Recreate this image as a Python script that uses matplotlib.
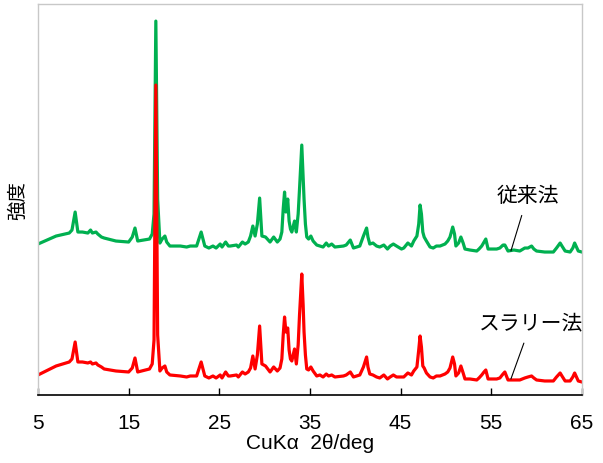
import matplotlib
matplotlib.use("Agg")
import matplotlib.pyplot as plt

# 2-theta positions shared by both patterns (deg)
two_theta = [5.0, 7.0, 8.45, 8.75, 9.1, 9.4, 9.9, 10.5, 10.8, 11.0, 11.4, 11.6, 12.0,
             12.3, 13.6, 15.0, 15.4, 15.7, 16.0, 17.3, 17.6, 17.8, 18.0, 18.2, 18.45,
             18.7, 19.0, 19.2, 19.55, 20.7, 21.4, 21.8, 22.5, 22.75, 23.0, 23.2, 23.4,
             23.85, 24.3, 24.65, 25.1, 25.3, 25.7, 26.0, 26.2, 26.9, 27.1, 27.55, 27.85,
             28.2, 28.45, 28.7, 28.95, 29.2, 29.45, 29.7, 30.1, 30.6, 31.0, 31.4, 31.7,
             31.9, 32.05, 32.2, 32.35, 32.55, 32.7, 32.85, 33.0, 33.3, 33.5, 33.7, 33.85,
             34.1, 34.25, 34.35, 34.5, 34.65, 34.85, 35.1, 35.35, 35.75, 36.1, 36.45,
             36.8, 37.05, 37.4, 37.75, 38.7, 39.0, 39.45, 39.8, 40.5, 40.9, 41.25, 41.4,
             41.6, 41.95, 42.35, 42.7, 43.15, 43.55, 43.85, 44.2, 44.55, 45.1, 45.35,
             45.8, 46.2, 46.45, 46.8, 47.0, 47.15, 47.3, 47.45, 47.6, 47.85, 48.25, 48.6,
             48.95, 49.35, 49.9, 50.2, 50.45, 50.75, 50.95, 51.1, 51.4, 51.65, 51.9, 52.1,
             52.65, 53.4, 53.65, 53.95, 54.2, 54.4, 54.65, 55.1, 55.6, 55.95, 56.3, 56.5,
             56.85, 57.5, 58.15, 58.7, 59.05, 59.45, 59.7, 60.0, 60.9, 61.85, 62.2, 62.6,
             62.8, 63.15, 63.7, 64.0, 64.2, 64.45, 64.6, 65.0]

# conventional method (offset upwards)
conv = [151, 159, 162, 165, 183, 163, 163, 162, 165, 162, 163, 161, 158,
        157, 154, 153, 158, 167, 154, 156, 161, 181, 374, 196, 152,
        156, 159, 153, 149, 149, 148, 149, 149, 156, 163, 156, 149,
        147, 149, 147, 151, 148, 153, 149, 149, 150, 148, 153, 151,
        153, 159, 169, 159, 171, 197, 159, 158, 153, 158, 153, 156,
        163, 186, 203, 183, 196, 174, 166, 163, 174, 163, 181, 206,
        250, 216, 196, 171, 158, 156, 159, 154, 150, 149, 148,
        152, 149, 151, 148, 149, 150, 155, 147, 149, 159, 167, 158,
        151, 152, 149, 148, 150, 146, 149, 151, 149, 146, 147,
        152, 149, 154, 159, 171, 190, 181, 163, 158, 154, 148, 147,
        149, 149, 151, 154, 158, 168, 161, 149, 152, 158, 152, 146,
        145, 144, 146, 149, 153, 156, 146, 146, 146, 147, 150, 150,
        144, 145, 144, 147, 147, 149, 146, 144, 143, 143, 147, 152,
        149, 144, 143, 147, 152, 147, 144, 143]

# slurry method
slurry = [20, 29, 33, 36, 53, 33, 33, 32, 33, 31, 32, 30, 28,
          26, 24, 23, 27, 37, 23, 26, 31, 55, 310, 60, 24,
          27, 29, 23, 20, 19, 18, 19, 19, 26, 33, 26, 19,
          17, 19, 17, 20, 17, 23, 19, 19, 20, 18, 23, 21,
          23, 27, 39, 26, 40, 69, 31, 29, 23, 28, 24, 27,
          36, 60, 78, 63, 67, 45, 36, 34, 46, 31, 50, 80,
          121, 90, 63, 40, 26, 25, 28, 24, 19, 20, 18,
          21, 19, 20, 18, 19, 20, 23, 18, 20, 28, 38, 28,
          21, 20, 18, 17, 20, 16, 18, 20, 18, 18, 18,
          22, 20, 24, 28, 45, 59, 48, 29, 27, 22, 18, 17,
          19, 19, 21, 23, 27, 38, 31, 19, 22, 29, 22, 16,
          16, 15, 17, 20, 23, 25, 16, 16, 16, 17, 21, 23,
          15, 15, 15, 17, 18, 19, 17, 15, 14, 14, 18, 22,
          19, 14, 14, 18, 22, 17, 14, 13]

x_ticks = [5, 15, 25, 35, 45, 55, 65]
labels = ["従来法", "スラリー法"]

plt.rcParams['font.family'] = ['Liberation Sans', 'Noto Sans CJK JP']

fig = plt.figure(figsize=(6.03, 4.64), dpi=100)
ax = fig.add_axes([0.063, 0.1466, 0.902, 0.8424])

ax.plot(two_theta, conv, color="#00B050", lw=2.3, solid_joinstyle="round")
ax.plot(two_theta, slurry, color="#FF0000", lw=2.3, solid_joinstyle="round")

ax.set_xlim(5, 65)
ax.set_ylim(0, 391)
ax.set_xticks(x_ticks)
ax.set_yticks([])
ax.tick_params(axis="x", direction="in", length=5, width=1, pad=13, labelsize=15)

for side in ["top", "right", "left"]:
    ax.spines[side].set_color("#c8c8c8")
    ax.spines[side].set_linewidth(1)
ax.spines["bottom"].set_color("black")
ax.spines["bottom"].set_linewidth(1.2)

ax.set_xlabel("CuKα  2θ/deg", fontsize=15, labelpad=1)
ax.set_ylabel("強度", fontsize=14, labelpad=8)

# labels with leader lines
ax.annotate(labels[0], xy=(57.17, 144), xytext=(59.05, 200), fontsize=15,
            ha="center", va="center",
            arrowprops=dict(arrowstyle="-", color="black", lw=0.8, shrinkA=6, shrinkB=0))
ax.annotate(labels[1], xy=(57.17, 16), xytext=(59.4, 72), fontsize=15,
            ha="center", va="center",
            arrowprops=dict(arrowstyle="-", color="black", lw=0.8, shrinkA=6, shrinkB=0))

fig.savefig("out.png", dpi=100)
